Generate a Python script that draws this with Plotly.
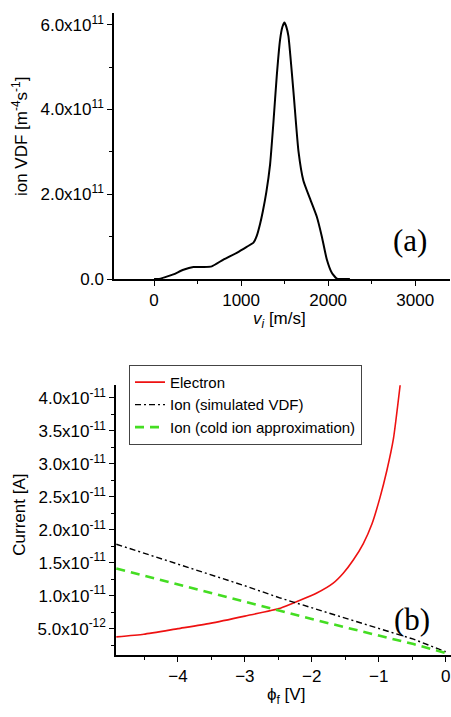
import plotly.graph_objects as go

# ---- panel (a): ion velocity distribution function ----
v_ion = [0, 50, 120, 222, 337, 452, 567, 663, 797, 950, 1065, 1142, 1180, 1218, 1250,
         1290, 1333, 1372, 1410, 1448, 1475, 1498, 1520, 1544, 1602, 1659, 1716, 1793,
         1870, 1928, 1985, 2042, 2100, 2150, 2250]
vdf = [0, 0, 4e9, 1.1e10, 2.2e10, 2.85e10, 2.85e10, 3.0e10, 4.6e10, 6.2e10, 7.6e10,
       8.6e10, 1.02e11, 1.3e11, 1.6e11, 2.05e11, 2.7e11, 3.71e11, 4.8e11, 5.65e11,
       5.95e11, 6.05e11, 5.95e11, 5.73e11, 4.41e11, 3.02e11, 2.32e11, 1.89e11,
       1.47e11, 1.0e11, 4.6e10, 1.47e10, 1e9, 0, 0]
vdf_ticks = [0, 2e11, 4e11, 6e11]
vdf_ticktext = ["0.0", "2.0x10<sup>11</sup>", "4.0x10<sup>11</sup>", "6.0x10<sup>11</sup>"]
v_ticks = [0, 1000, 2000, 3000]

# ---- panel (b): collected currents vs floating potential ----
phi_e = [-4.92, -4.51, -4.0, -3.52, -3.0, -2.47, -2.175, -1.925, -1.68, -1.53, -1.38,
         -1.23, -1.10, -0.98, -0.88, -0.78, -0.68]
i_electron = [3.76e-12, 4.16e-12, 5.0e-12, 5.8e-12, 6.9e-12, 8.1e-12, 9.3e-12,
              10.4e-12, 11.9e-12, 13.4e-12, 15.4e-12, 17.9e-12, 20.9e-12, 24.9e-12,
              28.9e-12, 33.8e-12, 41.9e-12]
phi_i = [-4.92, -4.0, -3.0, -2.47, -2.0, -1.0, -0.48, 0.0]
i_ion_vdf = [17.8e-12, 14.8e-12, 11.5e-12, 9.64e-12, 8.17e-12, 5.04e-12, 3.4e-12, 1.5e-12]
phi_c = [-4.92, -4.0, -3.0, -2.62, -2.0, -1.0, -0.48, 0.0]
i_ion_cold = [14.13e-12, 11.7e-12, 9.05e-12, 8.05e-12, 6.45e-12, 3.95e-12, 2.66e-12, 1.3e-12]
cur_ticks = [5e-12, 1e-11, 1.5e-11, 2e-11, 2.5e-11, 3e-11, 3.5e-11, 4e-11]
cur_ticktext = ["5.0x10<sup>-12</sup>", "1.0x10<sup>-11</sup>", "1.5x10<sup>-11</sup>",
                "2.0x10<sup>-11</sup>", "2.5x10<sup>-11</sup>", "3.0x10<sup>-11</sup>",
                "3.5x10<sup>-11</sup>", "4.0x10<sup>-11</sup>"]
phi_ticks = [-4, -3, -2, -1, 0]

W, H = 451, 717
FONT = "Liberation Sans, Arial, sans-serif"
SERIF = "Liberation Serif, Times New Roman, serif"


def px_x(x):
    return x / W


def px_y(y):
    return 1 - y / H


fig = go.Figure()

fig.add_trace(go.Scatter(x=v_ion, y=vdf, mode="lines", showlegend=False,
                         line=dict(color="black", width=2, shape="spline", smoothing=0.5),
                         xaxis="x", yaxis="y"))

fig.add_trace(go.Scatter(x=phi_e, y=i_electron, mode="lines", name="Electron",
                         line=dict(color="#ee1111", width=1.6, shape="spline", smoothing=0.5),
                         xaxis="x2", yaxis="y2"))
fig.add_trace(go.Scatter(x=phi_i, y=i_ion_vdf, mode="lines", name="Ion (simulated VDF)",
                         line=dict(color="black", width=1.4, dash="6px,3px,2px,3px"),
                         xaxis="x2", yaxis="y2"))
fig.add_trace(go.Scatter(x=phi_c, y=i_ion_cold, mode="lines",
                         name="Ion (cold ion approximation)",
                         line=dict(color="#44dd22", width=2.6, dash="9px,6px"),
                         xaxis="x2", yaxis="y2"))

axis_common = dict(showline=True, linecolor="black", linewidth=1.5, mirror=False,
                   ticks="outside", ticklen=5, tickwidth=1.2, tickcolor="black",
                   showgrid=False, zeroline=False,
                   tickfont=dict(family=FONT, size=17, color="black"))

fig.update_layout(
    width=W, height=H,
    margin=dict(l=0, r=0, t=0, b=0),
    paper_bgcolor="white", plot_bgcolor="white",
    xaxis=dict(domain=[px_x(114), px_x(450)], range=[-460, 3400], anchor="y",
               tickvals=v_ticks,
               minor=dict(tickvals=[500, 1500, 2500], ticklen=3, tickwidth=1.2,
                          tickcolor="black", ticks="outside"),
               **axis_common),
    yaxis=dict(domain=[px_y(283), px_y(13)], range=[0, 6.28e11], anchor="x",
               tickvals=vdf_ticks, ticktext=vdf_ticktext,
               minor=dict(tickvals=[1e11, 3e11, 5e11], ticklen=3, tickwidth=1.2,
                          tickcolor="black", ticks="outside"),
               **axis_common),
    xaxis2=dict(domain=[px_x(116), 1.0], range=[-4.925, 0.08], anchor="y2",
                tickvals=phi_ticks,
                minor=dict(tickvals=[-4.5, -3.5, -2.5, -1.5, -0.5], ticklen=3,
                           tickwidth=1.2, tickcolor="black", ticks="outside"),
                **axis_common),
    yaxis2=dict(domain=[px_y(664.3), px_y(390)], range=[1.0e-12, 4.2e-11], anchor="x2",
                tickvals=cur_ticks, ticktext=cur_ticktext,
                minor=dict(tickvals=[2.5e-12, 7.5e-12, 1.25e-11, 1.75e-11, 2.25e-11,
                                     2.75e-11, 3.25e-11, 3.75e-11],
                           ticklen=3, tickwidth=1.2, tickcolor="black", ticks="outside"),
                **axis_common),
    legend=dict(x=px_x(129), y=px_y(370), xanchor="left", yanchor="top",
                bgcolor="white", bordercolor="#444444", borderwidth=1,
                font=dict(family=FONT, size=15, color="black"),
                tracegroupgap=0, itemwidth=30),
    showlegend=True,
)

annotations = [
    dict(text="ion VDF [m<sup>-4</sup>s<sup>-1</sup>]", x=px_x(20), y=px_y(139),
         textangle=-90, font=dict(family=FONT, size=17)),
    dict(text="<i>v</i><sub><i>i</i></sub> [m/s]", x=px_x(279), y=px_y(325),
         font=dict(family=FONT, size=17)),
    dict(text="(a)", x=px_x(410), y=px_y(244), font=dict(family=SERIF, size=31)),
    dict(text="Current [A]", x=px_x(20), y=px_y(522), textangle=-90,
         font=dict(family=FONT, size=17)),
    dict(text="ϕ<sub>f</sub> [V]", x=px_x(286), y=px_y(706),
         font=dict(family=FONT, size=17)),
    dict(text="(b)", x=px_x(412), y=px_y(628), font=dict(family=SERIF, size=31)),
]
for a in annotations:
    a.update(xref="paper", yref="paper", showarrow=False, xanchor="center",
             yanchor="middle")
    a["font"]["color"] = "black"
fig.update_layout(annotations=annotations)

fig.write_html("out.html")
